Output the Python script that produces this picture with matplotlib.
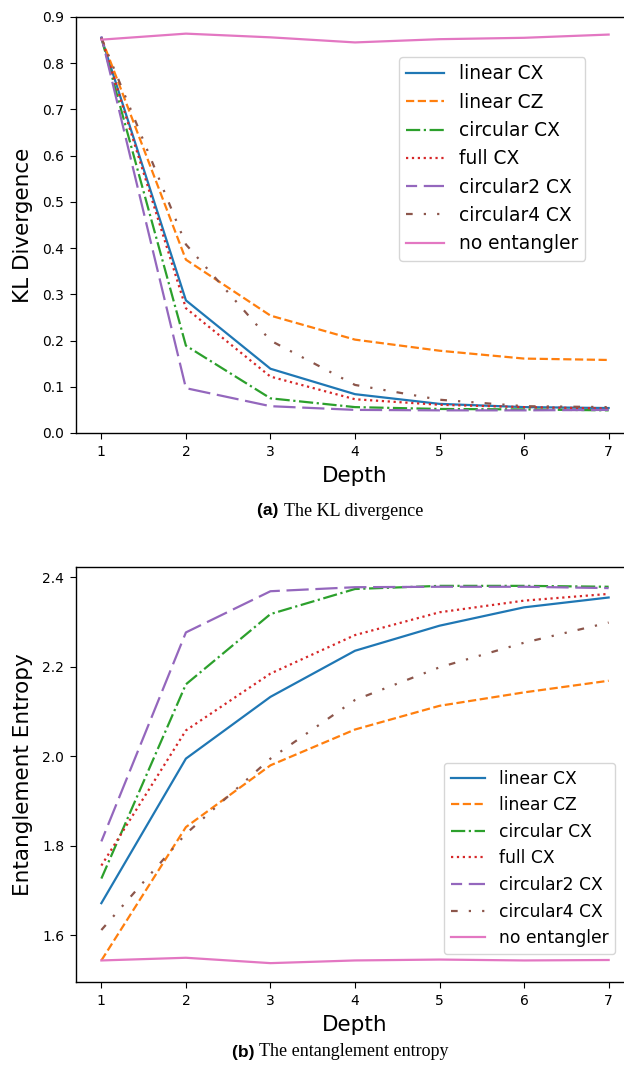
import numpy as np
import matplotlib.pyplot as plt
from matplotlib.transforms import blended_transform_factory

W, H = 624, 1070
DPI = 100

depths = [1, 2, 3, 4, 5, 6, 7]
labels = ['linear CX', 'linear CZ', 'circular CX', 'full CX',
          'circular2 CX', 'circular4 CX', 'no entangler']

# KL divergence per depth
kl_linear_cx = [0.855, 0.287, 0.139, 0.084, 0.063, 0.056, 0.054]
kl_linear_cz = [0.855, 0.375, 0.254, 0.202, 0.178, 0.161, 0.158]
kl_circular_cx = [0.855, 0.189, 0.075, 0.056, 0.052, 0.051, 0.049]
kl_full_cx = [0.855, 0.270, 0.122, 0.073, 0.061, 0.056, 0.053]
kl_circular2_cx = [0.858, 0.097, 0.058, 0.050, 0.049, 0.049, 0.050]
kl_circular4_cx = [0.855, 0.408, 0.200, 0.104, 0.072, 0.058, 0.056]
kl_no_ent = [0.851, 0.864, 0.856, 0.845, 0.852, 0.855, 0.862]

# entanglement entropy per depth
ee_linear_cx = [1.672, 1.995, 2.133, 2.236, 2.292, 2.333, 2.355]
ee_linear_cz = [1.544, 1.842, 1.980, 2.060, 2.113, 2.143, 2.169]
ee_circular_cx = [1.727, 2.161, 2.318, 2.374, 2.381, 2.381, 2.379]
ee_full_cx = [1.756, 2.058, 2.185, 2.271, 2.322, 2.348, 2.363]
ee_circular2_cx = [1.810, 2.277, 2.369, 2.378, 2.379, 2.379, 2.376]
ee_circular4_cx = [1.612, 1.827, 1.995, 2.126, 2.199, 2.254, 2.299]
ee_no_ent = [1.544, 1.550, 1.538, 1.544, 1.546, 1.544, 1.545]

kl_data = [kl_linear_cx, kl_linear_cz, kl_circular_cx, kl_full_cx,
           kl_circular2_cx, kl_circular4_cx, kl_no_ent]
ee_data = [ee_linear_cx, ee_linear_cz, ee_circular_cx, ee_full_cx,
           ee_circular2_cx, ee_circular4_cx, ee_no_ent]

COLORS = ['tab:blue', 'tab:orange', 'tab:green', 'tab:red',
          'tab:purple', 'tab:brown', 'tab:pink']
STYLES = ['-', '--', '-.', ':', (5, (10, 3)), (0, (3, 5, 1, 5, 1, 5)), '-']

TICK_FS = 10
LABEL_FS = 15.5

fig = plt.figure(figsize=(W / DPI, H / DPI), dpi=DPI)


def px_axes(left, top, right, bottom):
    return fig.add_axes([left / W, 1 - bottom / H, (right - left) / W, (bottom - top) / H])


def draw(ax, data, ylabel, leg_xy, leg_fs):
    for k, ys in enumerate(data):
        ax.plot(depths, ys, linestyle=STYLES[k], color=COLORS[k], lw=1.6, label=labels[k])
    ax.set_xlim(0.7, 7.3)
    ax.set_xticks(depths)
    ax.tick_params(labelsize=TICK_FS, length=4, pad=4.5)
    for s in ax.spines.values():
        s.set_linewidth(1.0)
    ax.set_xlabel('Depth', fontsize=LABEL_FS, labelpad=5)
    ax.set_ylabel(ylabel, fontsize=LABEL_FS)
    ax.yaxis.set_label_coords(33 / W, 0.5,
                              transform=blended_transform_factory(fig.transFigure, ax.transAxes))
    ax.legend(loc='upper left', bbox_to_anchor=(leg_xy[0] / W, 1 - leg_xy[1] / H),
              bbox_transform=fig.transFigure, borderaxespad=0, fontsize=leg_fs)


ax1 = px_axes(76, 17, 634, 433)
draw(ax1, kl_data, 'KL Divergence', (399, 57), 13.4)
ax1.set_ylim(0, 0.9)

ax2 = px_axes(76, 567, 634, 982)
draw(ax2, ee_data, 'Entanglement Entropy', (444, 763), 12.3)
ax2.set_yticks([1.6, 1.8, 2.0, 2.2, 2.4])

# sub-captions
for label, text, cy in [('(a)', 'The KL divergence', 511), ('(b)', 'The entanglement entropy', 1052)]:
    t1 = fig.text(0, 1 - cy / H, label + ' ', fontsize=12.5, fontweight='bold',
                  family='Liberation Sans', va='center')
    t2 = fig.text(0, 1 - cy / H, text, fontsize=13, family='Liberation Serif', va='center')
    fig.canvas.draw()
    r = fig.canvas.get_renderer()
    w1 = t1.get_window_extent(r).width
    w2 = t2.get_window_extent(r).width
    x0 = (W * 0.545 - (w1 + w2) / 2)
    t1.set_x(x0 / W)
    t2.set_x((x0 + w1) / W)

fig.savefig('out.png', dpi=DPI)
